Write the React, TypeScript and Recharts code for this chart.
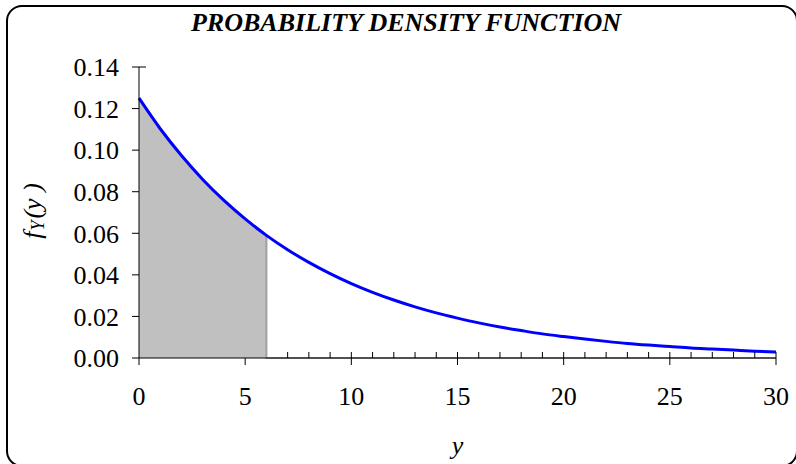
import React from 'react';
import { ComposedChart, Line, Area, XAxis, YAxis } from 'recharts';

// y values read at each whole unit along the curve
const yValues = [0, 1, 2, 3, 4, 5, 6, 7, 8, 9, 10, 11, 12, 13, 14, 15, 16, 17, 18, 19, 20, 21, 22, 23, 24, 25, 26, 27, 28, 29, 30];
const densityValues = [
  0.1250, 0.1103, 0.0974, 0.0859, 0.0758, 0.0669, 0.0590, 0.0521, 0.0460, 0.0406, 0.0358,
  0.0316, 0.0279, 0.0246, 0.0217, 0.0192, 0.0169, 0.0149, 0.0132, 0.0116, 0.0103,
  0.0091, 0.0080, 0.0070, 0.0062, 0.0055, 0.0048, 0.0043, 0.0038, 0.0033, 0.0029,
];

// shaded region: area under curve from 0 to 6, then zero
const shadeY = [0, 1, 2, 3, 4, 5, 6, 6, 30];
const shadeValues = [0.1250, 0.1103, 0.0974, 0.0859, 0.0758, 0.0669, 0.0590, 0, 0];

const xMajorTicks = [0, 5, 10, 15, 20, 25, 30];
// minor ticks that show (the ones under the shading are hidden)
const xMinorTicks = [7, 8, 9, 10, 11, 12, 13, 14, 15, 16, 17, 18, 19, 20, 21, 22, 23, 24, 25, 26, 27, 28, 29, 30];
const yMajorTicks = [0, 0.02, 0.04, 0.06, 0.08, 0.1, 0.12, 0.14];
const yMinorTicks = [0.13, 0.14];

const curveData = yValues.map((y, i) => ({ y, f: densityValues[i] }));
const shadeData = shadeY.map((y, i) => ({ y, s: shadeValues[i] }));

const FONT = '"Liberation Serif", "Times New Roman", serif';

const EmptyTick = () => <g />;

const YLabel = () => (
  <text
    x={35}
    y={211}
    transform="rotate(-90, 35, 211)"
    textAnchor="middle"
    dominantBaseline="middle"
    fontFamily={FONT}
    fontStyle="italic"
    fontSize={26}
    fill="#000"
  >
    <tspan>f</tspan>
    <tspan fontSize={18} dy={5} dx={1}>Y</tspan>
    <tspan dy={-5} dx={2}>(y )</tspan>
  </text>
);

const App: React.FC = () => {
  return (
    <div
      style={{
        position: 'relative',
        width: 796,
        height: 464,
        overflow: 'hidden',
        background: '#fff',
        fontFamily: FONT,
      }}
    >
      <style>{'body { margin: 0; }'}</style>
      <div
        style={{
          position: 'absolute',
          left: 0,
          top: 8,
          width: 812,
          textAlign: 'center',
          fontSize: 26,
          fontWeight: 'bold',
          fontStyle: 'italic',
          lineHeight: '30px',
        }}
      >
        PROBABILITY DENSITY FUNCTION
      </div>
      <div style={{ position: 'absolute', left: 0, top: 0 }}>
        <ComposedChart
          width={796}
          height={464}
          data={curveData}
          margin={{ top: 67, right: 20, left: 0, bottom: 0 }}
        >
          <XAxis
            dataKey="y"
            type="number"
            domain={[0, 30]}
            ticks={xMajorTicks}
            height={106}
            tickSize={7}
            tickMargin={22}
            axisLine={{ stroke: '#000' }}
            tickLine={{ stroke: '#000' }}
            tick={{ fill: '#000', fontSize: 26, fontFamily: FONT }}
            label={{
              value: 'y',
              position: 'insideBottom',
              offset: 10,
              style: { fill: '#000', fontSize: 26, fontStyle: 'italic', fontFamily: FONT },
            }}
          />
          <XAxis
            xAxisId="minor"
            dataKey="y"
            type="number"
            domain={[0, 30]}
            ticks={xMinorTicks}
            mirror
            tickSize={6}
            axisLine={false}
            tickLine={{ stroke: '#000' }}
            tick={EmptyTick}
          />
          <YAxis
            type="number"
            domain={[0, 0.14]}
            ticks={yMajorTicks}
            width={139}
            tickSize={7}
            tickMargin={13}
            tickFormatter={(v: number) => v.toFixed(2)}
            axisLine={{ stroke: '#000' }}
            tickLine={{ stroke: '#000' }}
            tick={{ fill: '#000', fontSize: 26, fontFamily: FONT }}
            label={<YLabel />}
          />
          <YAxis
            yAxisId="minor"
            type="number"
            domain={[0, 0.14]}
            ticks={yMinorTicks}
            mirror
            tickSize={7}
            axisLine={false}
            tickLine={{ stroke: '#000' }}
            tick={EmptyTick}
          />
          <Area
            data={shadeData}
            dataKey="s"
            type="linear"
            fill="#c0c0c0"
            fillOpacity={1}
            stroke="#a0a0a0"
            strokeWidth={2}
            isAnimationActive={false}
          />
          <Line
            yAxisId="minor"
            dataKey="f"
            type="monotone"
            stroke="none"
            dot={false}
            isAnimationActive={false}
          />
          <Line
            dataKey="f"
            type="monotone"
            stroke="#0000ff"
            strokeWidth={3}
            dot={false}
            isAnimationActive={false}
          />
        </ComposedChart>
      </div>
      <div
        style={{
          position: 'absolute',
          left: 6,
          top: 5,
          width: 792,
          height: 462,
          boxSizing: 'border-box',
          border: '2px solid #000',
          borderRadius: 16,
          pointerEvents: 'none',
        }}
      />
    </div>
  );
};

export default App;
